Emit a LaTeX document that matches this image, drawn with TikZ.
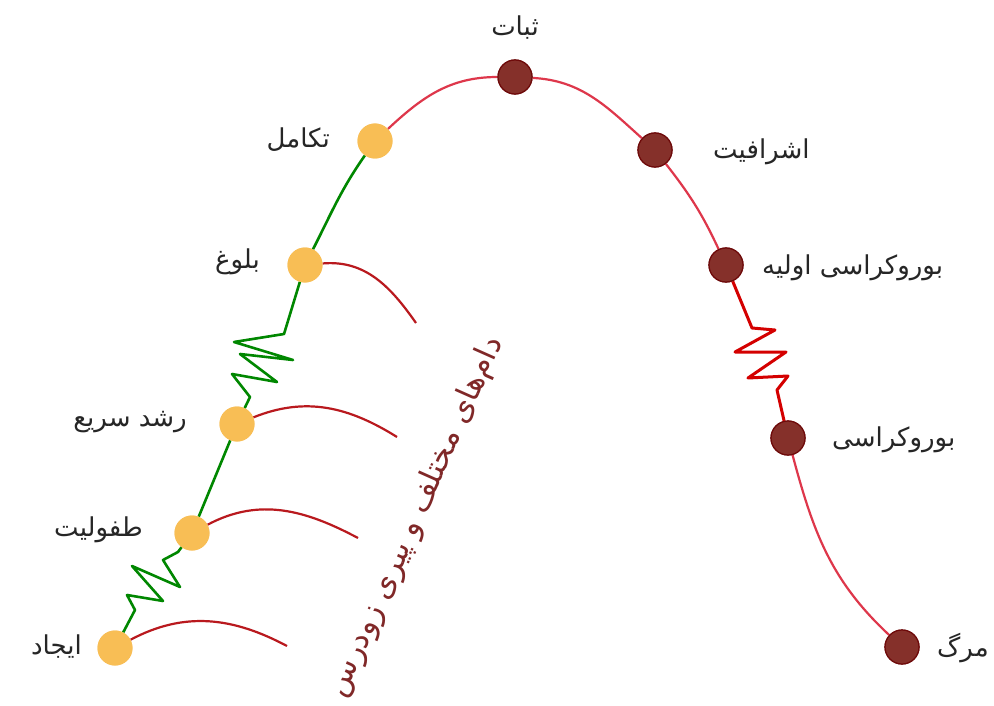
\documentclass[tikz,border=0pt]{standalone}
\usepackage{fontspec}
\newfontfamily\arabicfont[Script=Arabic]{DejaVu Sans}
\TeXXeTstate=1
\definecolor{ylw}{RGB}{248,190,85}
\definecolor{rfill}{RGB}{133,48,42}
\definecolor{rline}{RGB}{110,10,10}
\definecolor{grn}{RGB}{0,135,0}
\definecolor{mainred}{RGB}{222,55,75}
\definecolor{zigred}{RGB}{212,0,0}
\definecolor{trapred}{RGB}{185,25,30}
\definecolor{brn}{RGB}{128,40,40}
\begin{document}
\begin{tikzpicture}[x=1pt,y=1pt,
  ydot/.style={circle, fill=ylw, draw=none, minimum size=35pt, inner sep=0pt},
  rdot/.style={circle, fill=rfill, draw=rline, line width=1.2pt, minimum size=34pt, inner sep=0pt},
  lbl/.style={font=\arabicfont\fontsize{26}{30}\selectfont, text=black!85, inner sep=0pt},
  rotlbl/.style={font=\arabicfont\fontsize{31}{35}\selectfont, text=brn, inner sep=0pt},
  gline/.style={draw=grn, line width=2.6pt, line join=round},
  mline/.style={draw=mainred, line width=2.2pt},
  rzig/.style={draw=zigred, line width=3pt, line join=round},
  trap/.style={draw=trapred, line width=2.2pt}]
\useasboundingbox (0,0) rectangle (994,-706);
\fill[white] (0,0) rectangle (994,-706);

% nodes
\node[ydot] (n1) at (115,-648) {};
\node[ydot] (n2) at (192,-533) {};
\node[ydot] (n3) at (237,-424) {};
\node[ydot] (n4) at (305,-265) {};
\node[ydot] (n5) at (375,-141) {};
\node[rdot] (n6) at (515,-77) {};
\node[rdot] (n7) at (655,-150) {};
\node[rdot] (n8) at (726,-265) {};
\node[rdot] (n9) at (788,-438) {};
\node[rdot] (n10) at (902,-647) {};

% labels
\node[lbl, anchor=east] (l1) at (82,-647) {\beginR ایجاد\endR};
\node[lbl, anchor=east] (l2) at (143,-530) {\beginR طفولیت\endR};
\node[lbl, anchor=east] (l3) at (187,-422) {\beginR رشد سریع\endR};
\node[lbl, anchor=east] (l4) at (260,-262) {\beginR بلوغ\endR};
\node[lbl, anchor=east] (l5) at (330,-140) {\beginR تکامل\endR};
\node[lbl] (l6) at (515,-28) {\beginR ثبات\endR};
\node[lbl, anchor=west] (l7) at (713,-152) {\beginR اشرافیت\endR};
\node[lbl, anchor=west] (l8) at (762,-268) {\beginR بوروکراسی اولیه\endR};
\node[lbl, anchor=west] (l9) at (832,-440) {\beginR بوروکراسی\endR};
\node[lbl, anchor=west] (l10) at (937,-648) {\beginR مرگ\endR};

\node[rotlbl, rotate=66] (trp) at (416,-517) {\beginR دام‌های مختلف و پیری زودرس\endR};

% green growth line
\draw[gline] (n1) -- (135,-610) -- (127,-595) -- (163,-601) -- (132,-566) -- (180,-587) -- (163,-560) -- (178,-552) -- (n2);
\draw[gline] (n2) -- (n3);
\draw[gline] (n3) -- (250,-397) -- (232,-374) -- (277,-382) -- (240,-354) -- (293,-360) -- (234,-342) -- (284,-334) -- (n4);
\draw[gline] (n4) to[out=63,in=235] (n5);

% main red curve
\draw[mline] (n5) to[out=43,in=180] (n6);
\draw[mline] (n6) to[out=-3,in=138] (n7);
\draw[mline] (n7) to[out=-52,in=115] (n8);
\draw[rzig] (n8) -- (752,-328) -- (775,-330) -- (735,-352) -- (786,-352) -- (748,-378) -- (788,-376) -- (777,-390) -- (n9);
\draw[mline] (n9) to[out=-75,in=137] (n10);

% trap arcs
\coordinate (t1) at (287,-646);
\coordinate (t2) at (358,-538);
\coordinate (t3) at (397,-437);
\coordinate (t4) at (416,-323);
\draw[trap] (n1) to[out=28,in=152] (t1);
\draw[trap] (n2) to[out=28,in=152] (t2);
\draw[trap] (n3) to[out=22,in=148] (t3);
\draw[trap] (n4) to[out=5,in=125] (t4);

% redraw dots on top
\node[ydot] at (n1) {};
\node[ydot] at (n2) {};
\node[ydot] at (n3) {};
\node[ydot] at (n4) {};
\node[ydot] at (n5) {};
\node[rdot] at (n6) {};
\node[rdot] at (n7) {};
\node[rdot] at (n8) {};
\node[rdot] at (n9) {};
\node[rdot] at (n10) {};
\end{tikzpicture}
\end{document}
